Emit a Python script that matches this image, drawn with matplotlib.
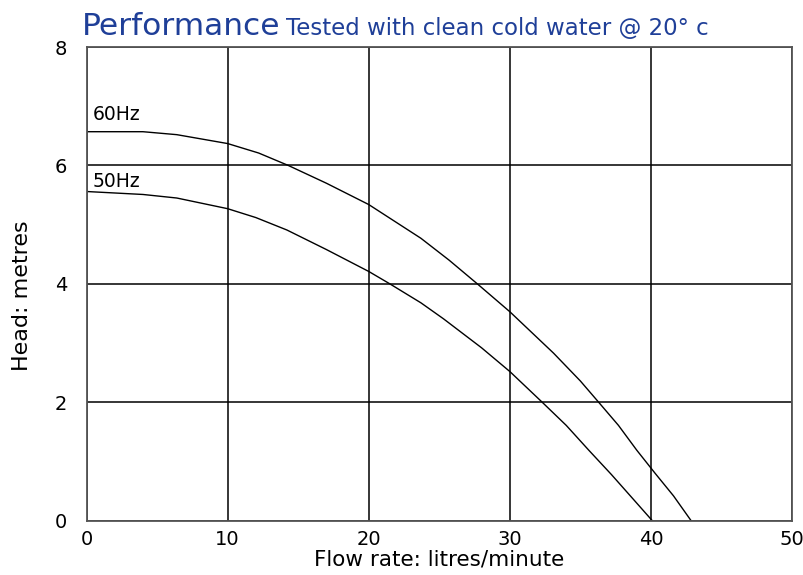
import matplotlib
matplotlib.use("Agg")
import matplotlib.pyplot as plt

# curve readings (flow in litres/minute, head in metres)
flow_60hz = [0, 4, 6.4, 10, 12.2, 14.3, 17.0, 20, 23.7, 25.7, 27.7, 30, 33.1,
             35.0, 36.3, 37.7, 39.0, 40.3, 41.6, 42.85]
head_60hz = [6.57, 6.57, 6.52, 6.37, 6.21, 6.0, 5.70, 5.34, 4.77, 4.40, 4.0, 3.53,
             2.83, 2.36, 2.0, 1.61, 1.19, 0.80, 0.42, 0.0]

flow_50hz = [0, 4, 6.4, 10, 12.0, 14.2, 17.0, 20, 21.5, 23.7, 25.3, 28.0, 30,
             32.3, 34.0, 35.6, 37.2, 38.8, 40.1]
head_50hz = [5.56, 5.51, 5.45, 5.27, 5.12, 4.91, 4.58, 4.21, 4.0, 3.68, 3.41, 2.92,
             2.52, 2.0, 1.61, 1.19, 0.78, 0.35, 0.0]

x_ticks = [0, 10, 20, 30, 40, 50]
y_ticks = [0, 2, 4, 6, 8]

TITLE_BLUE = "#1f3f98"

fig = plt.figure(figsize=(8.04, 5.75), dpi=100)
ax = fig.add_axes([0.1076, 0.0944, 0.8775, 0.8238])

ax.plot(flow_60hz, head_60hz, color="black", lw=1.0)
ax.plot(flow_50hz, head_50hz, color="black", lw=1.0)

ax.text(0.45, 6.77, "60Hz", fontsize=13.5, va="baseline", ha="left")
ax.text(0.45, 5.63, "50Hz", fontsize=13.5, va="baseline", ha="left")

ax.set_xlim(0, 50)
ax.set_ylim(0, 8)
ax.set_xticks(x_ticks)
ax.set_yticks(y_ticks)
ax.tick_params(length=0, labelsize=14)
ax.tick_params(axis="x", pad=7)
ax.tick_params(axis="y", pad=14)
ax.grid(True, color="black", lw=1.1)
ax.set_axisbelow(True)
for s in ax.spines.values():
    s.set_color("#555555")
    s.set_linewidth(1.3)

ax.set_xlabel("Flow rate: litres/minute", fontsize=15.5, labelpad=0)
ax.set_ylabel("Head: metres", fontsize=16)
ax.yaxis.set_label_coords(-0.077, 0.476)

fig.text(0.102, 0.939, "Performance", fontsize=22.5, color=TITLE_BLUE, va="baseline")
fig.text(0.356, 0.939, "Tested with clean cold water @ 20\u00b0 c", fontsize=16.5,
         color=TITLE_BLUE, va="baseline")

fig.savefig("out.png", dpi=100)
